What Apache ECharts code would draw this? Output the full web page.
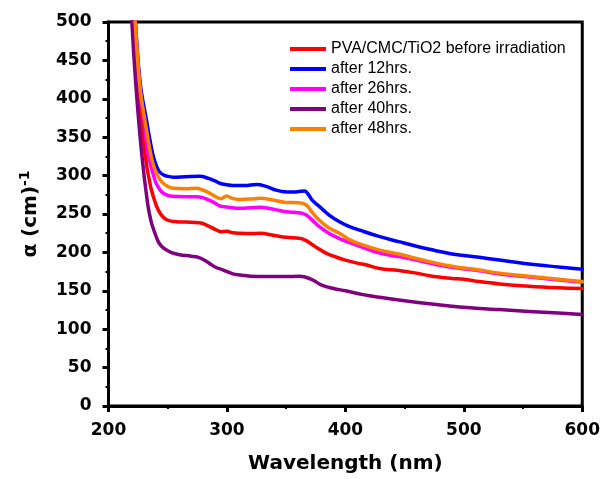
<!DOCTYPE html>
<html>
<head>
<meta charset="utf-8">
<title>Absorption coefficient vs wavelength</title>
<script src="https://cdn.jsdelivr.net/npm/echarts@6/dist/echarts.min.js"></script>
<style>
  html, body { margin: 0; padding: 0; background: #fff; }
  #chart { width: 603px; height: 479px; }
</style>
</head>
<body>
<div id="chart"></div>
<script>
// Absorption coefficient alpha (cm^-1) against wavelength (nm), pairs of [nm, alpha]
var seriesNames = [
  'PVA/CMC/TiO2 before irradiation',
  'after 12hrs.',
  'after 26hrs.',
  'after 40hrs.',
  'after 48hrs.'
];
var seriesColors = ['#ff0000', '#0000ff', '#ff00ff', '#800080', '#ff8000'];

var beforeIrradiation = [
  [219.5, 540], [222, 490], [226, 400], [230.7, 329], [235.5, 286],
  [240.6, 260], [244, 250], [247.6, 244], [252, 241], [257.4, 240], [265, 239.5], [277, 238.5],
  [285, 234], [290, 230], [295, 227], [300, 227.5], [305, 225.5], [311, 224.8], [320, 224.5],
  [328, 224.8], [340, 222], [350, 219.6], [361, 218.3], [366, 216], [372.5, 209.6], [378, 204],
  [384, 198.8], [392, 194], [400, 190], [410, 186], [418, 183.5], [429, 179], [445, 176.5],
  [460, 173], [471, 169.5], [490, 166], [500, 165], [513, 162], [530, 159], [555, 156],
  [580, 154], [600, 153]
];
var after12 = [
  [220, 560], [222.8, 498], [226.8, 420], [232.1, 372], [237.2, 329],
  [240.6, 312], [243, 305], [246.2, 301], [250, 299], [254.6, 298], [265, 298.5], [277, 299],
  [285, 296], [290, 293], [294, 290], [300, 288], [305, 287], [315, 287], [325, 288.5],
  [333, 286], [341.6, 281], [348, 279], [355.6, 278.6], [362, 279.5], [365.5, 280], [369, 275],
  [372, 268], [378, 260], [386, 249], [395, 240], [403, 234], [412, 229], [429, 220.5],
  [445, 214], [460, 208], [471, 204], [490, 198], [513, 193.6], [530, 190], [555, 185],
  [580, 181], [600, 178]
];
var after26 = [
  [219.8, 560], [222.6, 498], [226.5, 416], [230, 372], [233.5, 329], [239.2, 294],
  [242, 285], [244.8, 279], [248, 275.5], [253.2, 273], [265, 272.5], [274, 272.5], [280, 271],
  [285, 268], [290, 264], [294, 260.4], [300, 259], [305, 258], [311, 257.4], [320, 258],
  [328, 258.7], [340, 256], [350, 253], [361, 251.7], [367, 248.7], [372, 242], [378, 233.5],
  [386, 225], [395, 218], [403, 213], [412, 208], [429, 199], [445, 194.5], [460, 190],
  [471, 186], [490, 180.5], [513, 176], [530, 172], [555, 168], [580, 164], [600, 161]
];
var after40 = [
  [219, 540], [219.8, 498], [223.2, 416], [228, 329], [233, 264], [236, 240], [239.2, 225],
  [242, 214], [244.8, 208], [249, 203], [253.2, 199.7], [260, 197], [270, 195], [277, 193],
  [285, 186], [290, 181], [297, 177], [305, 172], [311, 170.5], [320, 169], [333, 168.5],
  [350, 168.5], [361, 169], [366, 168], [372.5, 164], [380, 157.5], [390, 153], [400, 150],
  [415, 145], [429, 141.5], [450, 137], [471, 133], [490, 130], [513, 127], [530, 125.5],
  [555, 123], [580, 121], [600, 119]
];
var after48 = [
  [220, 560], [222.6, 498], [226.5, 416], [230.7, 372], [235.5, 329], [238, 313], [240.6, 303],
  [243, 296], [246.2, 290], [250, 286], [254.6, 283.5], [265, 283], [274, 283.5], [280, 281],
  [285.5, 277], [290, 273], [295, 270], [299.5, 273.5], [305, 270], [310.7, 269], [320, 269.5],
  [327.6, 270.4], [340, 268], [350, 265], [361, 264.8], [367, 261.7], [372, 252], [378, 242],
  [386, 232], [395, 225], [403, 217], [412, 211], [429, 203], [445, 198], [460, 192],
  [471, 188], [490, 182], [513, 177], [530, 173], [555, 169], [580, 165], [600, 162]
];

var seriesData = [beforeIrradiation, after12, after26, after40, after48];

var boldFont = 'DejaVu Sans';
var chart = echarts.init(document.getElementById('chart'), null, { renderer: 'canvas' });

var option = {
  backgroundColor: '#ffffff',
  animation: false,
  grid: {
    left: 108.5, right: 19.5, top: 22, bottom: 73,
    show: true, borderColor: '#000', borderWidth: 3, backgroundColor: 'transparent'
  },
  legend: {
    orient: 'vertical',
    left: 285,
    top: 36,
    itemWidth: 36,
    itemHeight: 4,
    itemGap: 4,
    icon: 'rect',
    data: seriesNames,
    textStyle: { fontFamily: 'Liberation Sans', fontSize: 16, color: '#000', lineHeight: 16 }
  },
  xAxis: {
    type: 'value',
    min: 200, max: 600, interval: 100,
    name: 'Wavelength (nm)',
    nameLocation: 'middle',
    nameGap: 48,
    nameTextStyle: { fontFamily: boldFont, fontWeight: 'bold', fontSize: 20, color: '#000' },
    axisLine: { show: true, lineStyle: { color: '#000', width: 3 } },
    axisTick: { show: true, length: 6, lineStyle: { color: '#000', width: 3 } },
    minorTick: { show: true, splitNumber: 2, length: 3, lineStyle: { color: '#000', width: 2 } },
    splitLine: { show: false },
    axisLabel: { margin: 16, fontFamily: boldFont, fontWeight: 'bold', fontSize: 17, color: '#000' }
  },
  yAxis: {
    type: 'value',
    min: 0, max: 500, interval: 50,
    name: '{m|α (cm)}{s|-1}',
    nameLocation: 'middle',
    nameRotate: 90,
    nameGap: 66,
    nameTextStyle: {
      color: '#000',
      rich: {
        m: { fontFamily: boldFont, fontWeight: 'bold', fontSize: 20, color: '#000', lineHeight: 24 },
        s: { fontFamily: boldFont, fontWeight: 'bold', fontSize: 14, color: '#000', verticalAlign: 'top', lineHeight: 14 }
      }
    },
    axisLine: { show: true, lineStyle: { color: '#000', width: 3 } },
    axisTick: { show: true, length: 6, lineStyle: { color: '#000', width: 3 } },
    minorTick: { show: true, splitNumber: 2, length: 3, lineStyle: { color: '#000', width: 2 } },
    splitLine: { show: false },
    axisLabel: { margin: 17, fontFamily: boldFont, fontWeight: 'bold', fontSize: 17, color: '#000' }
  },
  series: seriesNames.map(function (name, i) {
    return {
      name: name,
      type: 'line',
      data: seriesData[i],
      showSymbol: false,
      symbol: 'none',
      smooth: 0.4,
      clip: true,
      color: seriesColors[i],
      lineStyle: { color: seriesColors[i], width: 3.5, join: 'round', cap: 'round' }
    };
  })
};

chart.setOption(option);
</script>
</body>
</html>
